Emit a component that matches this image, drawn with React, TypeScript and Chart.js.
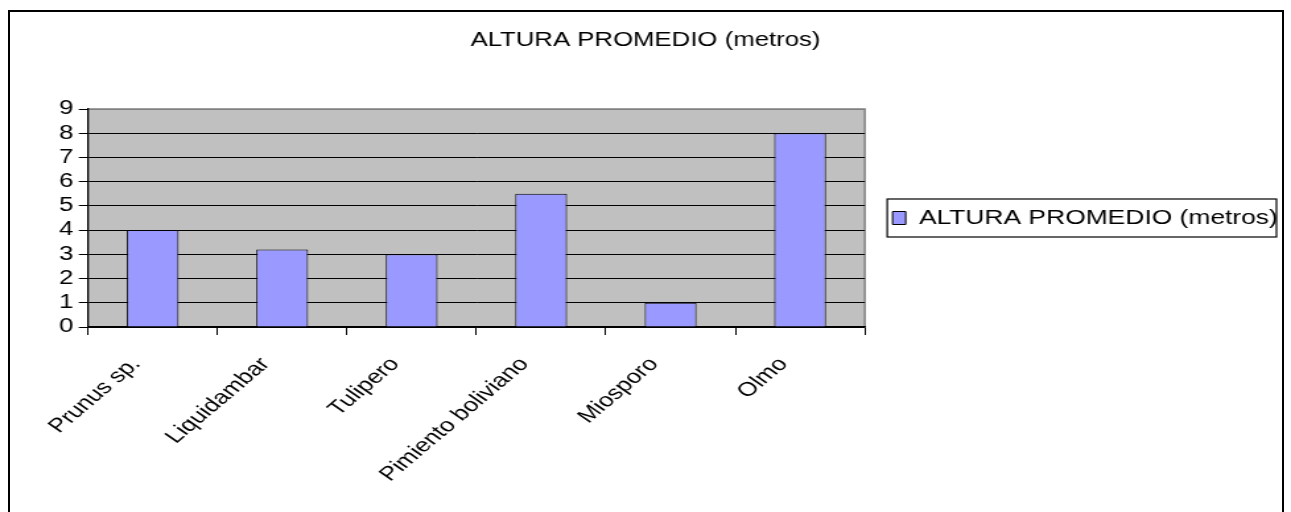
import React, { useEffect, useRef } from "react";
import { Chart, registerables } from "chart.js";

Chart.register(...registerables);

// ---- data ----
const categories = ["Prunus sp.", "Liquidambar", "Tulipero", "Pimiento boliviano", "Miosporo", "Olmo"];
const alturaPromedio = [4, 3.2, 3, 5.5, 1, 8];
const seriesLabel = "ALTURA PROMEDIO (metros)";
const chartTitle = "ALTURA PROMEDIO (metros)";
const yTickValues = [0, 1, 2, 3, 4, 5, 6, 7, 8, 9];

// ---- layout (internal canvas is drawn narrower and stretched horizontally, like the reference) ----
const STRETCH = 1.32;
const VIEW_W = 1291;
const VIEW_H = 512;
const CANVAS_W = Math.round(VIEW_W / STRETCH);
const FONT_FAMILY = "'Liberation Sans', Arial, Helvetica, sans-serif";
const FONT_SIZE = 19.5;

const plotDecor = {
  id: "plotDecor",
  beforeDraw(chart: any) {
    const { ctx, chartArea: a } = chart;
    ctx.save();
    ctx.fillStyle = "#C0C0C0";
    ctx.fillRect(a.left, a.top, a.right - a.left, a.bottom - a.top);
    ctx.strokeStyle = "#808080";
    ctx.lineWidth = 1.5;
    ctx.beginPath();
    ctx.moveTo(a.left, a.top);
    ctx.lineTo(a.right, a.top);
    ctx.lineTo(a.right, a.bottom);
    ctx.stroke();
    ctx.restore();
  },
  afterDraw(chart: any) {
    const legend = chart.legend;
    if (!legend || !legend.legendHitBoxes || !legend.legendHitBoxes.length) return;
    const hb = legend.legendHitBoxes[0];
    const left = hb.left - 4;
    const right = legend.right - 11;
    const cy = hb.top + hb.height / 2;
    const ctx = chart.ctx;
    ctx.save();
    ctx.strokeStyle = "#000";
    ctx.lineWidth = 1.2;
    ctx.strokeRect(left, cy - 19, right - left, 38);
    ctx.restore();
  },
};

export default function App() {
  const canvasRef = useRef<HTMLCanvasElement | null>(null);

  useEffect(() => {
    const canvas = canvasRef.current;
    if (!canvas) return;
    const font = { family: FONT_FAMILY, size: FONT_SIZE, weight: "normal" as const };
    const chart = new Chart(canvas, {
      type: "bar",
      data: {
        labels: categories,
        datasets: [
          {
            label: seriesLabel,
            data: alturaPromedio,
            backgroundColor: "#9999FF",
            borderColor: "#000000",
            borderWidth: 1,
            barPercentage: 0.4,
            categoryPercentage: 1,
          },
        ],
      },
      options: {
        responsive: false,
        animation: false,
        devicePixelRatio: 1,
        layout: { padding: 0 },
        plugins: {
          title: {
            display: true,
            text: chartTitle,
            color: "#000",
            font: { ...font, lineHeight: 1.2 },
            padding: { top: 29, bottom: 56.6 },
          },
          legend: {
            display: true,
            position: "right",
            fullSize: false,
            maxWidth: 500,
            labels: {
              color: "#000",
              font: { ...font, size: 20 },
              boxWidth: 10,
              boxHeight: 13,
              padding: 21,
            },
          },
          tooltip: { enabled: false },
        },
        scales: {
          x: {
            grid: {
              offset: true,
              drawOnChartArea: false,
              drawTicks: true,
              tickLength: 8,
              tickColor: "#000",
              color: "#000",
            },
            border: { color: "#000", width: 1.5 },
            ticks: {
              color: "#000",
              font,
              minRotation: 48,
              maxRotation: 48,
              autoSkip: false,
              padding: 18,
              labelOffset: -12.6,
            },
            afterFit(scale: any) {
              scale.height = VIEW_H - 327;
            },
          },
          y: {
            min: 0,
            max: 9,
            afterBuildTicks(scale: any) {
              scale.ticks = yTickValues.map((v) => ({ value: v }));
            },
            grid: {
              color: (c: any) => (c.tick && c.tick.value === 9 ? "#808080" : "#000"),
              lineWidth: 1,
              drawTicks: true,
              tickLength: 7,
              tickColor: "#000",
            },
            border: { color: "#000", width: 1.3 },
            ticks: {
              color: "#000",
              font,
              padding: 4,
              stepSize: 1,
              autoSkip: false,
            },
            afterFit(scale: any) {
              scale.width = 88 / STRETCH;
            },
          },
        },
      },
      plugins: [plotDecor],
    });
    return () => chart.destroy();
  }, []);

  return (
    <div
      style={{
        position: "absolute",
        left: 0,
        top: 0,
        width: VIEW_W,
        height: VIEW_H,
        overflow: "hidden",
        background: "#fff",
      }}
    >
      <div
        style={{
          position: "absolute",
          left: 8,
          top: 10,
          width: 1272,
          height: 600,
          border: "2px solid #000",
        }}
      />
      <canvas
        ref={canvasRef}
        width={CANVAS_W}
        height={VIEW_H}
        style={{ position: "absolute", left: 0, top: 0, width: VIEW_W + "px", height: VIEW_H + "px" }}
      />
    </div>
  );
}
